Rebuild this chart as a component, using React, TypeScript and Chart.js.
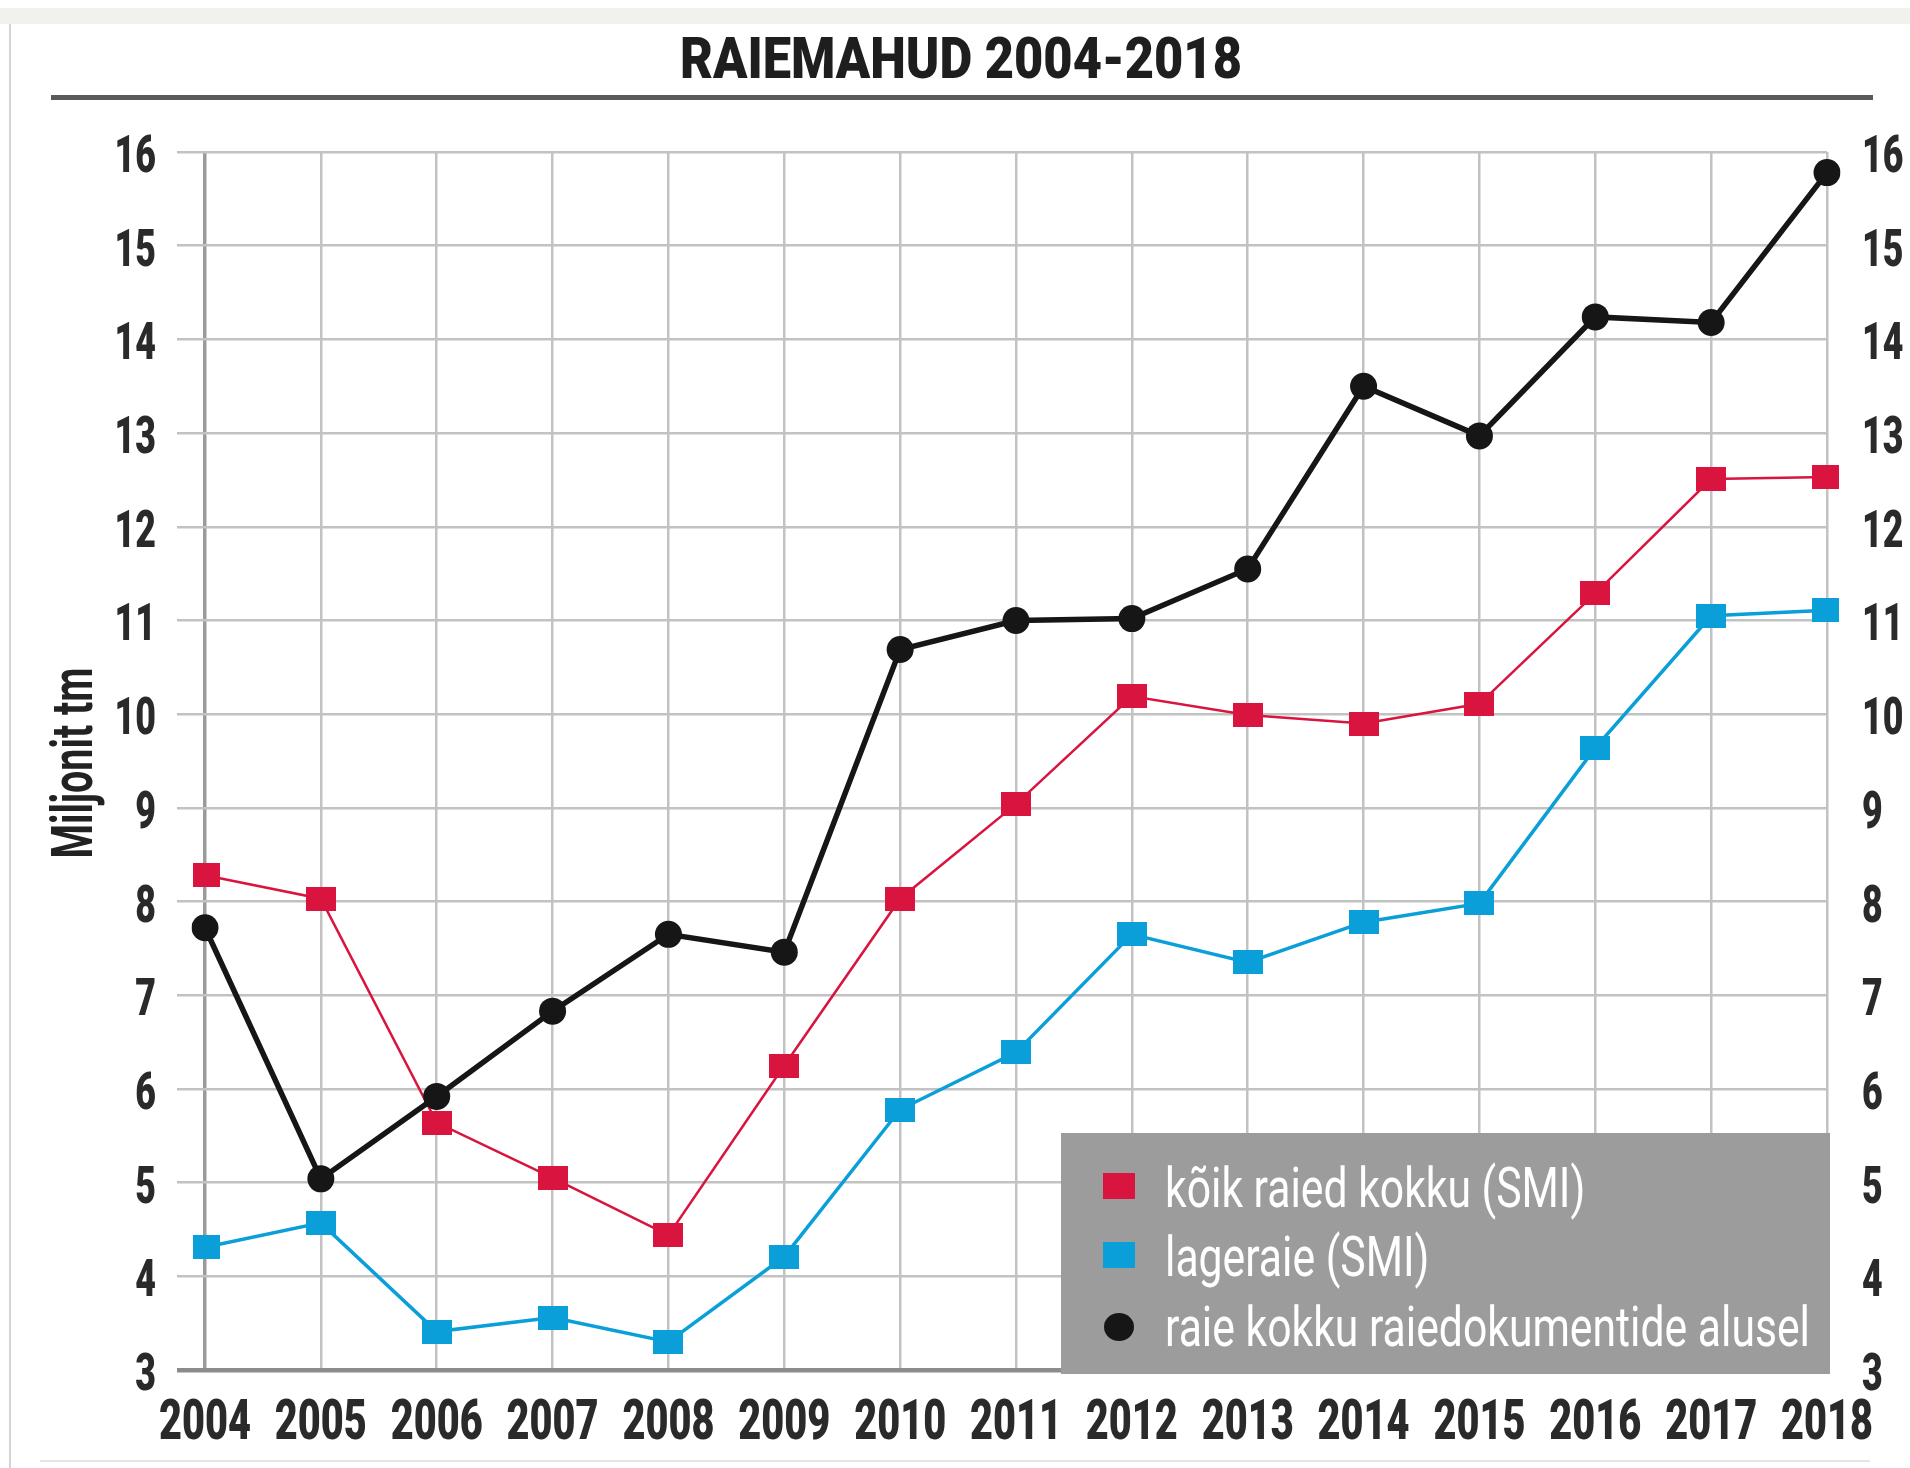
import React, { useEffect, useRef } from "react";
import { Chart, registerables } from "chart.js";

Chart.register(...registerables);

const years = ["2004", "2005", "2006", "2007", "2008", "2009", "2010", "2011", "2012", "2013", "2014", "2015", "2016", "2017", "2018"];
const koikRaied = [8.28, 8.03, 5.64, 5.05, 4.44, 6.25, 8.03, 9.04, 10.19, 9.99, 9.9, 10.11, 11.29, 12.51, 12.53];
const lageraie = [4.31, 4.57, 3.41, 3.56, 3.3, 4.21, 5.78, 6.39, 7.65, 7.35, 7.78, 7.98, 9.64, 11.05, 11.11];
const raieDokumendid = [7.72, 5.04, 5.92, 6.83, 7.65, 7.46, 10.69, 11.0, 11.02, 11.55, 13.5, 12.97, 14.24, 14.18, 15.78];
const seriesLabels = ["kõik raied kokku (SMI)", "lageraie (SMI)", "raie kokku raiedokumentide alusel"];
const seriesColors = ["#d8143f", "#0a9fd8", "#161616"];
const yMin = 3;
const yMax = 16;
const titleText = "RAIEMAHUD 2004-2018";
const yTitleText = "Miljonit tm";

const FONT = "Roboto, 'Noto Sans', sans-serif";
const LABEL_COLOR = "#2a2a2a";

function squeezeText(ctx: any, text: string, x: number, y: number, sx: number, align: string) {
  ctx.save();
  ctx.translate(x, y);
  ctx.scale(sx, 1);
  ctx.textAlign = align;
  ctx.fillText(text, 0, 0);
  ctx.restore();
}

function makeRect(color: string, w: number, h: number) {
  const c = document.createElement("canvas");
  c.width = w;
  c.height = h;
  const g = c.getContext("2d")!;
  g.fillStyle = color;
  g.fillRect(0, 0, w, h);
  return c;
}

const decorPlugin = {
  id: "decor",
  beforeDraw(chart: any) {
    const ctx = chart.ctx;
    const W = chart.width;
    const H = chart.height;
    ctx.save();
    ctx.fillStyle = "#ffffff";
    ctx.fillRect(0, 0, W, H);
    ctx.fillStyle = "#f1f1ee";
    ctx.fillRect(0, 8, W, 16);
    ctx.fillStyle = "#d4d4d4";
    ctx.fillRect(9, 24, 2, H - 24);
    ctx.fillStyle = "#e4e4e4";
    ctx.fillRect(40, 1460, W - 80, 2);
    // title
    ctx.fillStyle = "#1e1e1e";
    ctx.font = `900 57px ${FONT}`;
    ctx.textBaseline = "alphabetic";
    const tw = ctx.measureText(titleText).width;
    squeezeText(ctx, titleText, 961, 78, 562 / tw, "center");
    ctx.fillStyle = "#5a5a5a";
    ctx.fillRect(51, 95, 1822, 5);
    // y title
    ctx.translate(92, 763);
    ctx.rotate(-Math.PI / 2);
    ctx.fillStyle = "#222222";
    ctx.font = `bold 57px ${FONT}`;
    const yw = ctx.measureText(yTitleText).width;
    squeezeText(ctx, yTitleText, 0, 0, 191 / yw, "center");
    ctx.restore();
  },
  afterDatasetsDraw(chart: any) {
    const ctx = chart.ctx;
    ctx.save();
    const x0 = 1061, y0 = 1133, x1 = 1830, y1 = 1374;
    ctx.fillStyle = "#9c9c9c";
    ctx.fillRect(x0, y0, x1 - x0, y1 - y0);
    const markerY = [1186, 1255, 1327];
    const baseY = [1207, 1276, 1346];
    ctx.font = `55px ${FONT}`;
    ctx.textBaseline = "alphabetic";
    const longest = ctx.measureText(seriesLabels[2]).width;
    const sx = 645 / longest;
    chart.data.datasets.forEach((ds: any, i: number) => {
      const y = markerY[i];
      ctx.fillStyle = ds.borderColor;
      if (i === 2) {
        ctx.beginPath();
        ctx.ellipse(1119, y, 15, 14, 0, 0, Math.PI * 2);
        ctx.fill();
      } else {
        ctx.fillRect(1119 - 16, y - 13, 32, 26);
      }
      ctx.fillStyle = "#ffffff";
      squeezeText(ctx, ds.label, 1165, baseY[i], sx, "left");
    });
    ctx.restore();
  },
  afterDraw(chart: any) {
    const ctx = chart.ctx;
    ctx.save();
    ctx.fillStyle = LABEL_COLOR;
    ctx.textBaseline = "alphabetic";
    // x labels
    const xs = chart.scales.x;
    ctx.font = `900 55px ${FONT}`;
    const xsx = 92 / ctx.measureText("2004").width;
    xs.ticks.forEach((t: any, i: number) => {
      const px = xs.getPixelForTick(i);
      squeezeText(ctx, String(t.label), px, 1439, xsx, "center");
    });
    // y labels
    ctx.font = `900 51px ${FONT}`;
    const ysx = 0.7;
    const ys = chart.scales.y;
    ys.ticks.forEach((t: any, i: number) => {
      const py = ys.getPixelForTick(i);
      squeezeText(ctx, String(t.label), 156, py + 20, ysx, "right");
    });
    const ys2 = chart.scales.y2;
    ys2.ticks.forEach((t: any, i: number) => {
      const py = ys2.getPixelForTick(i);
      squeezeText(ctx, String(t.label), 1862, py + 20, ysx, "left");
    });
    ctx.restore();
  },
};

export default function App() {
  const ref = useRef<HTMLCanvasElement | null>(null);
  useEffect(() => {
    if (!ref.current) return;
    const gridColor = "#c2c2c2";
    const redRect = makeRect(seriesColors[0], 30, 24);
    const blueRect = makeRect(seriesColors[1], 30, 24);
    const chart = new Chart(ref.current, {
      type: "line",
      data: {
        labels: years,
        datasets: [
          {
            label: seriesLabels[0],
            data: koikRaied,
            borderColor: seriesColors[0],
            backgroundColor: seriesColors[0],
            borderWidth: 2.5,
            pointStyle: redRect as any,
            pointRadius: 12,
            pointBorderWidth: 0,
            order: 1,
          },
          {
            label: seriesLabels[1],
            data: lageraie,
            borderColor: seriesColors[1],
            backgroundColor: seriesColors[1],
            borderWidth: 3.5,
            pointStyle: blueRect as any,
            pointRadius: 12,
            pointBorderWidth: 0,
            order: 2,
          },
          {
            label: seriesLabels[2],
            data: raieDokumendid,
            borderColor: seriesColors[2],
            backgroundColor: seriesColors[2],
            borderWidth: 5.5,
            pointStyle: "circle",
            pointRadius: 13.5,
            pointBorderWidth: 0,
            order: 0,
          },
        ],
      },
      options: {
        animation: false,
        responsive: false,
        devicePixelRatio: 1,
        layout: { padding: { top: 152, right: 0, bottom: 0, left: 0 } },
        plugins: {
          legend: { display: false },
          tooltip: { enabled: false },
          title: { display: false },
        },
        scales: {
          x: {
            type: "category",
            offset: false,
            border: { display: false },
            grid: {
              drawTicks: false,
              color: (c: any) => (c.index === 0 ? "#9a9a9a" : gridColor),
              lineWidth: (c: any) => (c.index === 0 ? 3.5 : 2.5),
            },
            ticks: {
              color: "rgba(0,0,0,0)",
              font: { family: FONT, size: 40, weight: "bold" },
              padding: 18,
              maxRotation: 0,
              autoSkip: false,
            },
            afterFit: (s: any) => {
              s.height = 98;
            },
          },
          y: {
            position: "left",
            min: yMin,
            max: yMax,
            border: { display: false },
            grid: {
              drawTicks: true,
              tickLength: 28,
              color: (c: any) => (c.tick && c.tick.value === yMin ? "#8c8c8c" : gridColor),
              lineWidth: (c: any) => (c.tick && c.tick.value === yMin ? 4.5 : 2.5),
            },
            ticks: {
              stepSize: 1,
              color: "rgba(0,0,0,0)",
              font: { family: FONT, size: 40, weight: "bold" },
              padding: 20,
            },
            afterFit: (s: any) => {
              s.width = 205;
            },
          },
          y2: {
            position: "right",
            min: yMin,
            max: yMax,
            border: { display: false },
            grid: { display: false, drawTicks: false, drawOnChartArea: false },
            ticks: {
              stepSize: 1,
              color: "rgba(0,0,0,0)",
              font: { family: FONT, size: 40, weight: "bold" },
              padding: 34,
            },
            afterFit: (s: any) => {
              s.width = 83;
            },
          },
        },
      },
      plugins: [decorPlugin],
    });
    return () => chart.destroy();
  }, []);
  return (
    <div style={{ position: "fixed", left: 0, top: 0, width: 1910, height: 1468, background: "#fff" }}>
      <canvas ref={ref} width={1910} height={1468} style={{ width: 1910, height: 1468, display: "block" }} />
    </div>
  );
}
